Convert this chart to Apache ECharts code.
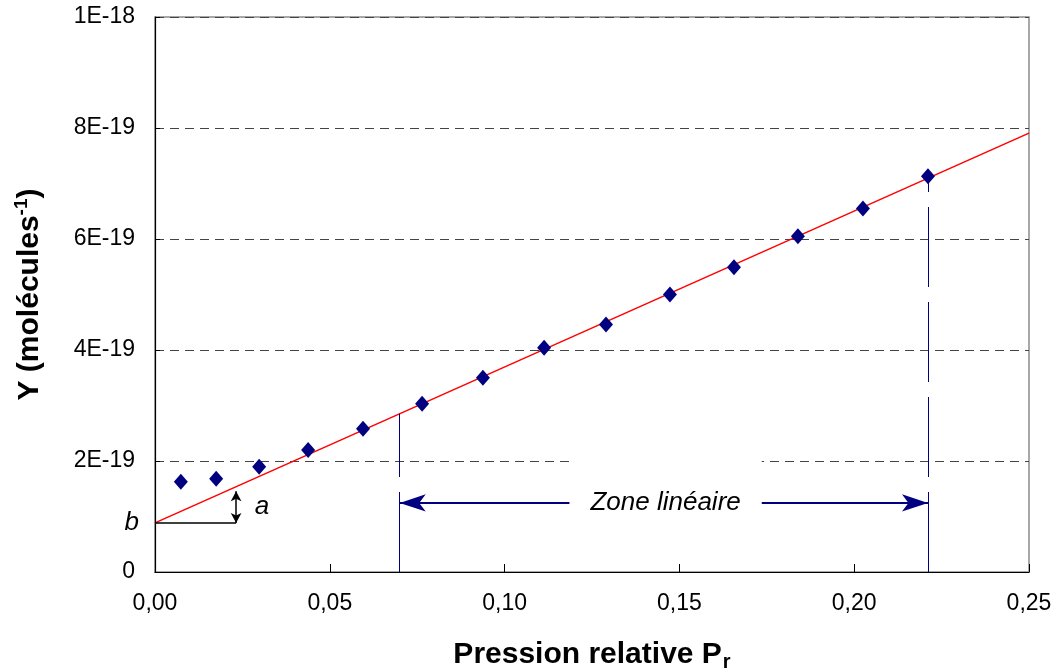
<!DOCTYPE html>
<html>
<head>
<meta charset="utf-8">
<script src="https://cdn.jsdelivr.net/npm/echarts@6/dist/echarts.min.js"></script>
<style>html,body{margin:0;padding:0;background:#fff;}#c{width:1058px;height:671px;}</style>
</head>
<body>
<div id="c"></div>
<script>
// Y values are expressed in units of 1E-19 molécules^-1
const Y_UNIT_EXP = -19;
const pressure = [0.0074, 0.0175, 0.0298, 0.0438, 0.0595, 0.0764, 0.0938, 0.1113, 0.1290, 0.1473, 0.1656, 0.1839, 0.2025, 0.2211];
const yValues  = [1.625, 1.68, 1.895, 2.20, 2.58, 3.03, 3.50, 4.04, 4.46, 5.00, 5.49, 6.05, 6.55, 7.13];
// linear fit: Y = b + a * Pr
const fitIntercept = 0.885;
const fitSlope = 28.09;
const fitRange = [0, 0.25];
// linear zone limits
const zoneStart = 0.07;
const zoneEnd = 0.2211;
const zoneArrowY = 1.245;
const zoneText = 'Zone linéaire';
// slope indicator "a"
const slopeMarkX = 0.0232;
const xTickLabels = ['0,00', '0,05', '0,10', '0,15', '0,20', '0,25'];
const yTickLabels = ['0', '2E-19', '4E-19', '6E-19', '8E-19', '1E-18'];

const fit = x => fitIntercept + fitSlope * x;
const navy = '#000080';
const FONT = '"Liberation Sans", Arial, sans-serif';

const chart = echarts.init(document.getElementById('c'), null, {renderer: 'canvas'});
chart.setOption({
  animation: false,
  backgroundColor: '#fff',
  textStyle: {fontFamily: FONT},
  grid: {left: 155, right: 29, top: 17, bottom: 99, show: true, borderColor: '#8c8c8c', borderWidth: 1.5, outerBoundsMode: 'none'},
  xAxis: {
    type: 'value', min: 0, max: 0.25, interval: 0.05,
    axisLine: {show: true, onZero: false, lineStyle: {color: '#000', width: 1.2}},
    axisTick: {show: true, inside: true, length: 8, lineStyle: {color: '#000'}},
    splitLine: {show: false},
    axisLabel: {
      margin: 20, color: '#000', fontSize: 23,
      formatter: (v) => xTickLabels[Math.round(v / 0.05)]
    },
    name: '{t|Pression relative P}{s|r}',
    nameLocation: 'middle', nameGap: 66,
    nameTextStyle: {
      rich: {
        t: {fontSize: 30, fontWeight: 'bold', color: '#000', fontFamily: FONT},
        s: {fontSize: 20, fontWeight: 'bold', color: '#000', padding: [14, 0, 0, 1], fontFamily: FONT}
      }
    }
  },
  yAxis: {
    type: 'value', min: 0, max: 10, interval: 2,
    axisLine: {show: true, onZero: false, lineStyle: {color: '#000', width: 1.2}},
    axisTick: {show: true, inside: true, length: 5, lineStyle: {color: '#000'}},
    splitLine: {show: true, lineStyle: {color: '#444', type: [9, 6], width: 1}},
    axisLabel: {
      margin: 20, color: '#000', fontSize: 23,
      formatter: (v) => yTickLabels[Math.round(v / 2)]
    },
    name: '{t|Y (molécules}{s|-1}{t|)}',
    nameLocation: 'middle', nameGap: 108, nameRotate: 90,
    nameTextStyle: {
      rich: {
        t: {fontSize: 30, fontWeight: 'bold', color: '#000', fontFamily: FONT},
        s: {fontSize: 19, fontWeight: 'bold', color: '#000', padding: [0, 0, 16, 0], fontFamily: FONT}
      }
    }
  },
  series: [
    {
      name: 'fit', type: 'line', z: 3,
      data: fitRange.map(x => [x, fit(x)]),
      showSymbol: false, symbol: 'none',
      lineStyle: {color: '#ff0000', width: 1.5},
      silent: true,
      markLine: {
        silent: true, animation: false,
        label: {show: false},
        data: [
          [{coord: [zoneStart, 0], symbol: 'none'}, {coord: [zoneStart, fit(zoneStart)], symbol: 'none'}],
          [{coord: [zoneEnd, 0], symbol: 'none'}, {coord: [zoneEnd, yValues[yValues.length - 1]], symbol: 'none'}],
          [{coord: [zoneStart, zoneArrowY], symbol: 'arrow', symbolSize: [13, 26], lineStyle: {type: 'solid', width: 2}},
           {coord: [zoneEnd, zoneArrowY], symbol: 'arrow', symbolSize: [13, 26]}],
          [{coord: [0, fitIntercept], symbol: 'none', lineStyle: {color: '#000', type: 'solid', width: 1.5}},
           {coord: [slopeMarkX, fitIntercept], symbol: 'none'}],
          [{coord: [slopeMarkX, fitIntercept], symbol: 'arrow', symbolSize: [8, 10], lineStyle: {color: '#000', type: 'solid', width: 1.5}, itemStyle: {color: '#000'}},
           {coord: [slopeMarkX, fit(slopeMarkX) - 0.08], symbol: 'arrow', symbolSize: [8, 10]}]
        ],
        lineStyle: {color: navy, width: 1, type: [80, 15], opacity: 1},
        itemStyle: {color: navy}
      }
    },
    {
      name: 'Y', type: 'scatter', z: 4,
      data: pressure.map((x, i) => [x, yValues[i]]),
      symbol: 'diamond', symbolSize: [14, 16],
      itemStyle: {color: navy, opacity: 1}
    },
    {
      name: 'labels', type: 'scatter', z: 6, silent: true, clip: false,
      symbolSize: 0,
      itemStyle: {opacity: 1},
      data: [
        {value: [(zoneStart + zoneEnd) / 2 + 0.0005, zoneArrowY],
         label: {show: true, position: 'inside', formatter: zoneText, fontSize: 26, fontStyle: 'italic', color: '#000',
                 backgroundColor: '#fff', padding: [48, 21, 20, 21]}},
        {value: [0.0306, 1.17],
         label: {show: true, position: 'inside', formatter: 'a', fontSize: 26, fontStyle: 'italic', color: '#000'}},
        {value: [0, fitIntercept],
         label: {show: true, position: 'left', distance: 16, formatter: 'b', fontSize: 26, fontStyle: 'italic', color: '#000'}}
      ]
    }
  ]
});
</script>
</body>
</html>
